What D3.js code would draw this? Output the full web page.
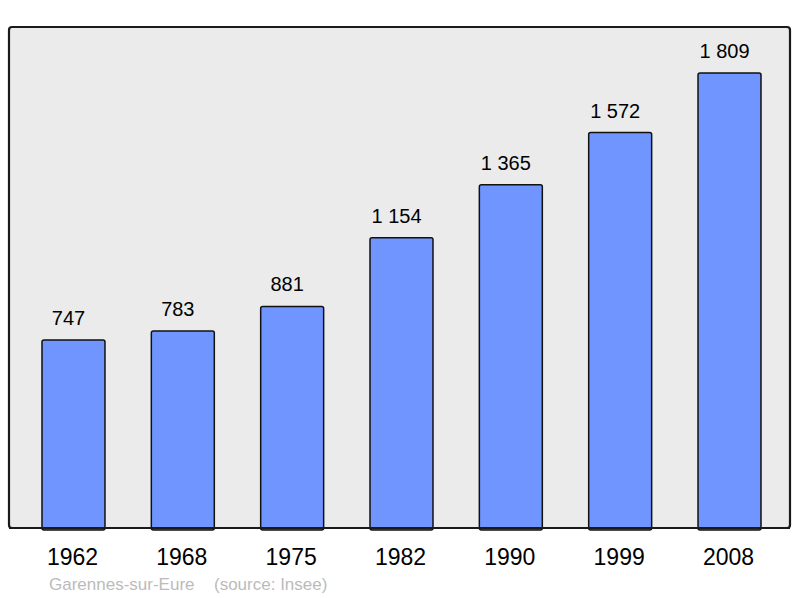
<!DOCTYPE html>
<html>
<head>
<meta charset="utf-8">
<script src="https://cdn.jsdelivr.net/npm/d3@7"></script>
<style>
  body { margin: 0; background: #fff; }
  text { font-family: "Liberation Sans", Arial, sans-serif; }
</style>
</head>
<body>
<svg id="chart" width="800" height="598"></svg>
<script>
// population by census year
const years = ["1962", "1968", "1975", "1982", "1990", "1999", "2008"];
const population = [747, 783, 881, 1154, 1365, 1572, 1809];
const commune = "Garennes-sur-Eure";
const source = "(source: Insee)";

const svg = d3.select("#chart");

// panel box
const panel = { left: 9, top: 27, right: 790, bottom: 528 };

svg.append("rect")
    .attr("x", panel.left)
    .attr("y", panel.top)
    .attr("width", panel.right - panel.left)
    .attr("height", panel.bottom - panel.top)
    .attr("rx", 3)
    .attr("fill", "#ebebeb")
    .attr("stroke", "#1a1a1a")
    .attr("stroke-width", 2.2);

const x = d3.scaleBand()
    .domain(years)
    .range([9.2, 793.8])
    .paddingInner(0.424)
    .paddingOuter(0.3);

const y = d3.scaleLinear()
    .domain([0, 1809])
    .range([panel.bottom, 73]);

const fmt = v => d3.format(",")(v).replace(/,/g, "\u00a0");

const data = years.map((yr, i) => ({ year: yr, value: population[i] }));

// bars
svg.append("g")
    .selectAll("rect")
    .data(data)
    .join("rect")
    .attr("x", d => x(d.year))
    .attr("y", d => y(d.value))
    .attr("width", x.bandwidth())
    .attr("height", d => y(0) - y(d.value) + 2)
    .attr("rx", 2)
    .attr("fill", "#7095ff")
    .attr("stroke", "#111")
    .attr("stroke-width", 1.5);

// redraw bottom border over the bars
svg.append("line")
    .attr("x1", panel.left)
    .attr("x2", panel.right)
    .attr("y1", panel.bottom)
    .attr("y2", panel.bottom)
    .attr("stroke", "#1a1a1a")
    .attr("stroke-width", 2.2);

// value labels (sit a little left of bar centre, as in the original)
svg.append("g")
    .selectAll("text")
    .data(data)
    .join("text")
    .attr("x", d => x(d.year) + x.bandwidth() / 2 - 5)
    .attr("y", d => y(d.value) - 15)
    .attr("text-anchor", "middle")
    .attr("font-size", 20)
    .attr("fill", "#000")
    .text(d => fmt(d.value));

// year labels
svg.append("g")
    .selectAll("text")
    .data(data)
    .join("text")
    .attr("x", d => x(d.year) + x.bandwidth() / 2 - 1)
    .attr("y", 565)
    .attr("text-anchor", "middle")
    .attr("font-size", 23)
    .attr("fill", "#000")
    .text(d => d.year);

// footer
svg.append("text")
    .attr("x", 49)
    .attr("y", 590)
    .attr("font-size", 17)
    .attr("fill", "#bbb")
    .text(commune);

svg.append("text")
    .attr("x", 214)
    .attr("y", 590)
    .attr("font-size", 17)
    .attr("fill", "#bbb")
    .text(source);
</script>
</body>
</html>
